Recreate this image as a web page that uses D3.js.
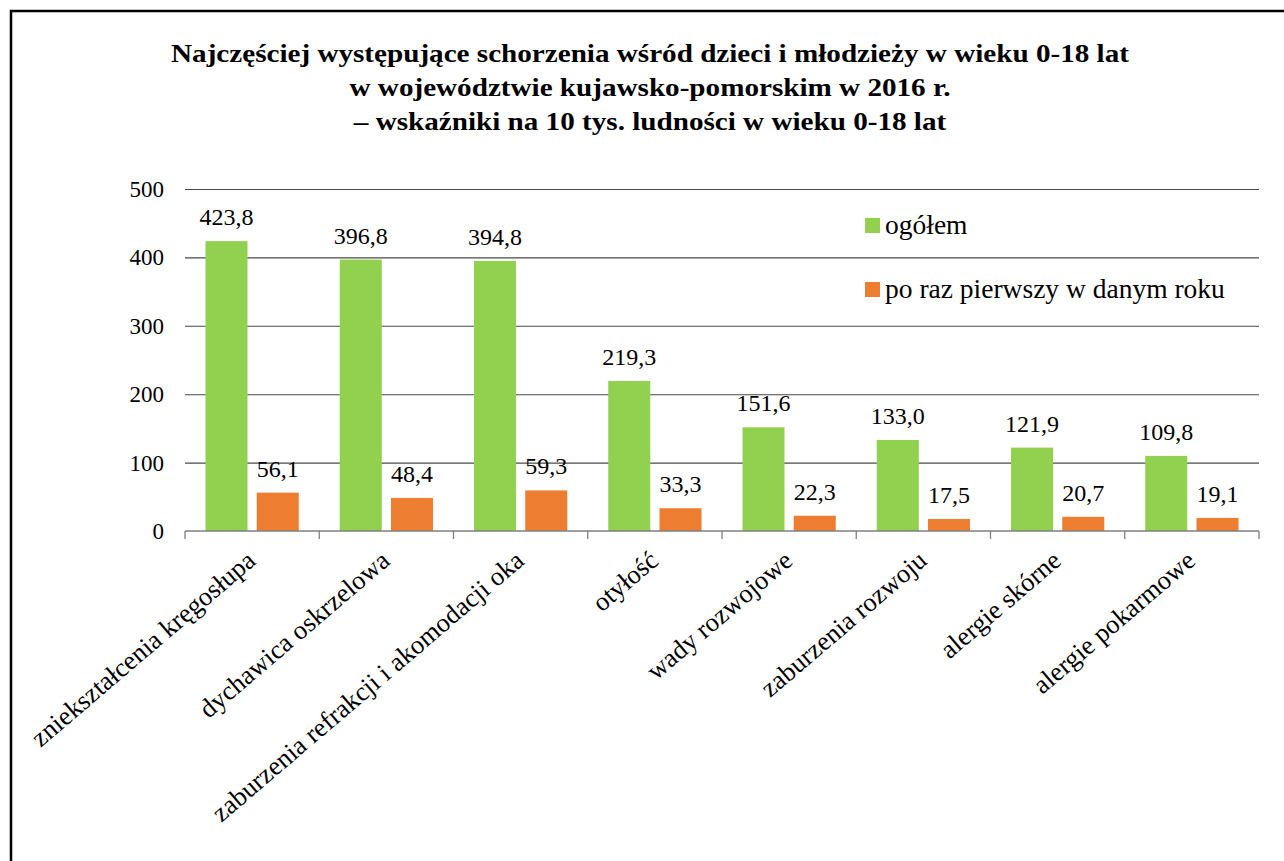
<!DOCTYPE html>
<html>
<head>
<meta charset="utf-8">
<script src="https://cdn.jsdelivr.net/npm/d3@7"></script>
<style>
  html, body { margin: 0; padding: 0; background: #ffffff; }
  svg { display: block; }
  svg text { font-family: "Liberation Serif", "Times New Roman", serif; fill: #000; }
</style>
</head>
<body>
<svg id="chart" width="1284" height="861"></svg>
<script>
const titleLines = [
  "Najczęściej występujące schorzenia wśród dzieci i młodzieży w wieku 0-18 lat",
  "w województwie kujawsko-pomorskim w 2016 r.",
  "– wskaźniki na 10 tys. ludności w wieku 0-18 lat"
];
const categories = [
  "zniekształcenia kręgosłupa",
  "dychawica oskrzelowa",
  "zaburzenia refrakcji i akomodacji oka",
  "otyłość",
  "wady rozwojowe",
  "zaburzenia rozwoju",
  "alergie skórne",
  "alergie pokarmowe"
];
const seriesNames = ["ogółem", "po raz pierwszy w danym roku"];
const ogolem = [423.8, 396.8, 394.8, 219.3, 151.6, 133.0, 121.9, 109.8];
const pierwszy = [56.1, 48.4, 59.3, 33.3, 22.3, 17.5, 20.7, 19.1];
const yTicks = [0, 100, 200, 300, 400, 500];
const colors = ["#92D050", "#ED7D31"];

const svg = d3.select("#chart");
const fmt = v => v.toFixed(1).replace(".", ",");

function placeText(parent, px, py, str, size, anchor, extra) {
  return parent.append("text")
    .attr("transform", `translate(${px},${py})` + (extra || ""))
    .attr("text-anchor", anchor)
    .attr("font-size", size)
    .text(str);
}

// outer border (left + top)
svg.append("path")
  .attr("d", "M11,861 L11,11 L1284,11")
  .attr("fill", "none").attr("stroke", "#000").attr("stroke-width", 2.5);

// title
titleLines.forEach((t, i) => {
  placeText(svg, 650, 62 + i * 34, t, 24.5, "middle", " scale(1.19,1)")
    .attr("font-weight", "bold");
});

const plot = { left: 185, right: 1259, top: 189, bottom: 531 };

const x = d3.scaleBand().domain(categories).range([plot.left, plot.right]).paddingInner(0).paddingOuter(0);
const y = d3.scaleLinear().domain([0, 500]).range([plot.bottom, plot.top]);
const x1 = d3.scaleBand().domain([0, 1])
  .range([0, x.bandwidth()])
  .paddingOuter(0.4)
  .paddingInner(0.18);

// gridlines
const grid = svg.append("g")
  .attr("transform", `translate(${plot.left},0)`)
  .call(d3.axisLeft(y).tickValues(yTicks.filter(t => t > 0)).tickSize(-(plot.right - plot.left)).tickFormat(""));
grid.select(".domain").remove();
grid.selectAll("text").remove();
grid.selectAll("line").attr("stroke", "#4a4a4a").attr("stroke-width", 1.1);

// y labels
const yLab = svg.append("g");
yTicks.forEach(t => {
  placeText(yLab, plot.left - 21, y(t) + 8, String(t), 23, "end");
});

// bars + value labels
const series = [ogolem, pierwszy];
series.forEach((vals, si) => {
  svg.append("g").selectAll("rect")
    .data(vals)
    .join("rect")
    .attr("x", (d, i) => x(categories[i]) + x1(si))
    .attr("y", d => y(d))
    .attr("width", x1.bandwidth())
    .attr("height", d => y(0) - y(d))
    .attr("fill", colors[si]);
  const lg = svg.append("g");
  vals.forEach((v, i) => {
    placeText(lg, x(categories[i]) + x1(si) + x1.bandwidth() / 2, y(v) - 16, fmt(v), 24, "middle");
  });
});

// x axis
const xAxis = svg.append("g").attr("transform", `translate(0,${plot.bottom})`);
xAxis.append("line")
  .attr("x1", plot.left).attr("x2", plot.right)
  .attr("y1", 0).attr("y2", 0)
  .attr("stroke", "#7f7f7f").attr("stroke-width", 1.3);
const bounds = categories.map(c => x(c)).concat([plot.right]);
xAxis.selectAll("line.tick").data(bounds).join("line")
  .attr("class", "tick")
  .attr("x1", d => d).attr("x2", d => d)
  .attr("y1", 0).attr("y2", 8)
  .attr("stroke", "#7f7f7f").attr("stroke-width", 1.3);

const xLab = svg.append("g");
categories.forEach(c => {
  placeText(xLab, x(c) + x.bandwidth() / 2 + 5, plot.bottom + 32, c, 26.5, "end", " rotate(-40.5)");
});

// legend
const legend = svg.append("g");
seriesNames.forEach((n, i) => {
  const ly = 218 + i * 64;
  legend.append("rect").attr("x", 865).attr("y", ly).attr("width", 15).attr("height", 15).attr("fill", colors[i]);
  placeText(legend, 885, ly + 16, n, 27.5, "start");
});
</script>
</body>
</html>
